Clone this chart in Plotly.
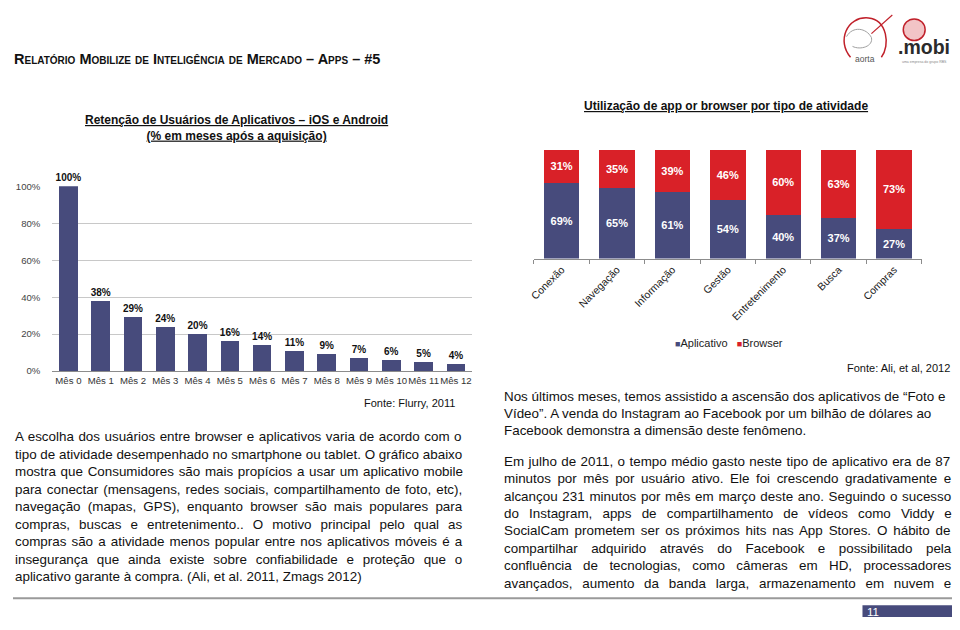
import unicodedata
import plotly.graph_objects as go

# ---------------- data ----------------
months = ["Mês 0", "Mês 1", "Mês 2", "Mês 3", "Mês 4", "Mês 5", "Mês 6",
          "Mês 7", "Mês 8", "Mês 9", "Mês 10", "Mês 11", "Mês 12"]
retention = [100, 38, 29, 24, 20, 16, 14, 11, 9, 7, 6, 5, 4]
left_yticks = [0, 20, 40, 60, 80, 100]
left_yticklabels = ["0%", "20%", "40%", "60%", "80%", "100%"]

activities = ["Conexão", "Navegação", "Informação", "Gestão",
              "Entretenimento", "Busca", "Compras"]
app_share = [69, 65, 61, 54, 40, 37, 27]
browser_share = [31, 35, 39, 46, 60, 63, 73]
series_names = ["Aplicativo", "Browser"]

header_text = "Relatório Mobilize de Inteligência de Mercado – Apps – #5"
left_title = "Retenção de Usuários de Aplicativos – iOS e Android<br>(% em meses após a aquisição)"
right_title = "Utilização de app or browser por tipo de atividade"
left_source = "Fonte: Flurry, 2011"
right_source = "Fonte: Ali, et al, 2012"
page_number = "11"

left_paragraph = [
    "A escolha dos usuários entre browser e aplicativos varia de acordo com o",
    "tipo de atividade desempenhado no smartphone ou tablet. O gráfico abaixo",
    "mostra que Consumidores são mais propícios a usar um aplicativo mobile",
    "para conectar (mensagens, redes sociais, compartilhamento de foto, etc),",
    "navegação (mapas, GPS), enquanto browser são mais populares para",
    "compras, buscas e entretenimento.. O motivo principal pelo qual as",
    "compras são a atividade menos popular entre nos aplicativos móveis é a",
    "insegurança que ainda existe sobre confiabilidade e proteção que o",
    "aplicativo garante à compra.  (Ali, et al. 2011, Zmags 2012)",
]
right_paragraph1 = [
    "Nos últimos meses, temos assistido a ascensão dos aplicativos de “Foto e",
    "Vídeo”. A venda do Instagram ao Facebook por um bilhão de dólares ao",
    "Facebook demonstra a dimensão deste fenômeno.",
]
right_paragraph2 = [
    "Em julho de 2011, o tempo médio gasto neste tipo de aplicativo era de 87",
    "minutos por mês por usuário ativo. Ele foi crescendo gradativamente e",
    "alcançou 231 minutos por mês em março deste ano. Seguindo o sucesso",
    "do Instagram, apps de compartilhamento de vídeos como Viddy e",
    "SocialCam prometem ser os próximos hits nas App Stores. O hábito de",
    "compartilhar adquirido através do Facebook e possibilitado pela",
    "confluência de tecnologias, como câmeras em HD, processadores",
    "avançados, aumento da banda larga, armazenamento em nuvem e",
]

# ---------------- styles ----------------
PAGE_MARGIN = 8          # default <body> margin of the written page
FIG_W, FIG_H = 960 - 2 * PAGE_MARGIN, 630 - 2 * PAGE_MARGIN
BLUE = "#474B7C"
RED = "#D92128"
FONT = "Liberation Sans, Arial, sans-serif"
TXT = 13.4


def px(x):
    """window pixel x -> paper fraction"""
    return (x - PAGE_MARGIN) / FIG_W


def py(y):
    """window pixel y (from top) -> paper fraction"""
    return 1 - (y - PAGE_MARGIN) / FIG_H


# Arial / Liberation Sans advance widths (1/1000 em)
AW = {' ': 278, '!': 278, '"': 355, '#': 556, '%': 889, "'": 191, '(': 333, ')': 333,
      ',': 278, '-': 333, '.': 278, '/': 278, ':': 278, ';': 278, '?': 556,
      '“': 333, '”': 333, '–': 556,
      'A': 667, 'B': 667, 'C': 722, 'D': 722, 'E': 667, 'F': 611, 'G': 778, 'H': 722,
      'I': 278, 'J': 500, 'K': 667, 'L': 556, 'M': 833, 'N': 722, 'O': 778, 'P': 667,
      'Q': 778, 'R': 722, 'S': 667, 'T': 611, 'U': 722, 'V': 667, 'W': 944, 'X': 667,
      'Y': 667, 'Z': 611,
      'a': 556, 'b': 556, 'c': 500, 'd': 556, 'e': 556, 'f': 278, 'g': 556, 'h': 556,
      'i': 222, 'j': 222, 'k': 500, 'l': 222, 'm': 833, 'n': 556, 'o': 556, 'p': 556,
      'q': 556, 'r': 333, 's': 500, 't': 278, 'u': 556, 'v': 500, 'w': 722, 'x': 500,
      'y': 500, 'z': 500}
for d in "0123456789":
    AW[d] = 556


def text_width(s, size):
    tot = 0
    for ch in s:
        if ch in AW:
            tot += AW[ch]
        else:
            base = unicodedata.normalize("NFD", ch)[0]
            tot += AW.get(base, 556)
    return tot * size / 1000.0


annotations = []
shapes = []


def note(text, x, y, xanchor="left", size=TXT, color="#111111", **font_extra):
    annotations.append(dict(
        text=text, x=px(x), y=py(y), xref="paper", yref="paper",
        xanchor=xanchor, yanchor="middle", showarrow=False, borderpad=0, borderwidth=0,
        align=xanchor if xanchor != "center" else "center",
        font=dict(family=FONT, size=size, color=color, **font_extra)))


def add_line(text, x_left, y_center, justify_to=None, size=TXT):
    t = " ".join(text.split())
    if justify_to is not None and t.count(" ") > 0:
        natural = text_width(t, size)
        ws = (justify_to - x_left - natural) / t.count(" ")
        t = f"<span style='word-spacing:{ws:.2f}px'>{t}</span>"
    note(t, x_left, y_center, size=size)


# left paragraph (justified except last line)
for i, line in enumerate(left_paragraph):
    add_line(line, 10, 438.3 + i * 17.84,
             justify_to=457.5 if i < len(left_paragraph) - 1 else None)

for i, line in enumerate(right_paragraph1):
    add_line(line, 501.5, 397.5 + i * 17.5)

for i, line in enumerate(right_paragraph2):
    add_line(line, 501.5, 463.3 + i * 17.77, justify_to=949)

fig = go.Figure()

# left chart
fig.add_trace(go.Bar(
    x=months, y=retention, xaxis="x", yaxis="y", width=0.576,
    marker=dict(color=BLUE, line=dict(width=0)),
    texttemplate="<b>%{y:.0f}%</b>", textposition="outside", cliponaxis=False,
    constraintext="none", textfont=dict(family=FONT, size=10, color="#111111"),
    showlegend=False, hoverinfo="skip"))

# right chart (stacked)
for name, vals, col in zip(series_names, [app_share, browser_share], [BLUE, RED]):
    fig.add_trace(go.Bar(
        name=name, x=activities, y=vals, xaxis="x2", yaxis="y2", width=0.64,
        marker=dict(color=col, line=dict(width=0)), texttemplate="<b>%{y:.0f}%</b>",
        textposition="inside", insidetextanchor="middle", constraintext="none",
        textfont=dict(family=FONT, size=11, color="white"), showlegend=False))

# legend of the right chart (compact, as in the original)
legend_html = "   ".join(
    f"<span style='color:{c}; font-size:9px'>■</span>{n}"
    for n, c in zip(series_names, [BLUE, RED]))
note(legend_html, 727.5, 342.5, xanchor="center", size=11, color="#222222")

# header & titles
note("<b>" + header_text + "</b>", 9, 53.5, size=14.5, variant="small-caps")
note("<b>" + left_title + "</b>", 233, 124, xanchor="center", size=12, lineposition="under")
note("<b>" + right_title + "</b>", 725, 101.5, xanchor="center", size=12, lineposition="under")
note(left_source, 452.5, 404, xanchor="right", size=11)
note(right_source, 950, 368.5, xanchor="right", size=11)

# logo (text + simple outline shapes)
note("<b>.mobi</b>", 923.5, 42, xanchor="center", size=19.5, color="#2b2b2b")
note("aorta", 865, 54, xanchor="center", size=8.5, color="#555555")
note("uma empresa do grupo RBS", 924, 57, xanchor="center", size=3.5, color="#888888")

shapes.append(dict(type="path", xref="paper", yref="paper",
                   path=f"M {px(850)},{py(52)} C {px(836)},{py(36)} {px(846)},{py(10)} {px(868)},{py(12)} "
                        f"C {px(887)},{py(14)} {px(890)},{py(40)} {px(881)},{py(52)}",
                   line=dict(color="#c0202a", width=1.5)))
shapes.append(dict(type="path", xref="paper", yref="paper",
                   path=f"M {px(846)},{py(31)} C {px(852)},{py(20)} {px(866)},{py(22)} {px(871)},{py(32)} "
                        f"C {px(873)},{py(41)} {px(860)},{py(45)} {px(852)},{py(41)}",
                   line=dict(color="#a0a0a0", width=1)))
shapes.append(dict(type="line", xref="paper", yref="paper",
                   x0=px(871), y0=py(28), x1=px(892), y1=py(9),
                   line=dict(color="#c0202a", width=1.2)))
shapes.append(dict(type="circle", xref="paper", yref="paper",
                   x0=px(903), y0=py(35), x1=px(925), y1=py(13),
                   fillcolor="#f2c4c6", line=dict(color="#c0202a", width=1.5)))

# page footer
shapes.append(dict(type="line", xref="paper", yref="paper",
                   x0=px(8), y0=py(603), x1=px(952), y1=py(603),
                   line=dict(color="#9a9a9a", width=2)))
shapes.append(dict(type="rect", xref="paper", yref="paper",
                   x0=px(862), y0=py(610), x1=px(952), y1=py(622),
                   fillcolor=BLUE, line=dict(width=0)))
note(page_number, 867, 616.5, size=11.5, color="white")

fig.update_layout(
    width=FIG_W, height=FIG_H, margin=dict(l=0, r=0, t=0, b=0),
    paper_bgcolor="white", plot_bgcolor="white",
    barmode="stack",
    font=dict(family=FONT, color="#333333"),
    showlegend=False,
    xaxis=dict(domain=[px(47.5), px(469.5)], anchor="y", type="category",
               showline=True, linecolor="#8c8c8c", linewidth=1, ticks="", tickangle=0,
               tickfont=dict(family=FONT, size=9.6, color="#333333")),
    yaxis=dict(domain=[py(371.5), py(183.5)], anchor="x", range=[0, 100],
               tickmode="array", tickvals=left_yticks, ticktext=left_yticklabels,
               showgrid=True, gridcolor="#c8c8c8", gridwidth=1, zeroline=False,
               showline=False, ticks="outside", ticklen=9, tickcolor="rgba(0,0,0,0)",
               tickfont=dict(family=FONT, size=9.6, color="#444444")),
    xaxis2=dict(domain=[px(531.7), px(921.6)], anchor="y2", type="category",
                showline=True, linecolor="#8c8c8c", linewidth=1,
                ticks="outside", tickson="boundaries", ticklen=4, tickcolor="#8c8c8c",
                tickangle=-45, tickfont=dict(family=FONT, size=10.5, color="#222222")),
    yaxis2=dict(domain=[py(257), py(146)], anchor="x2", range=[0, 100], visible=False),
    annotations=annotations, shapes=shapes,
)

fig.write_html("out.html")
